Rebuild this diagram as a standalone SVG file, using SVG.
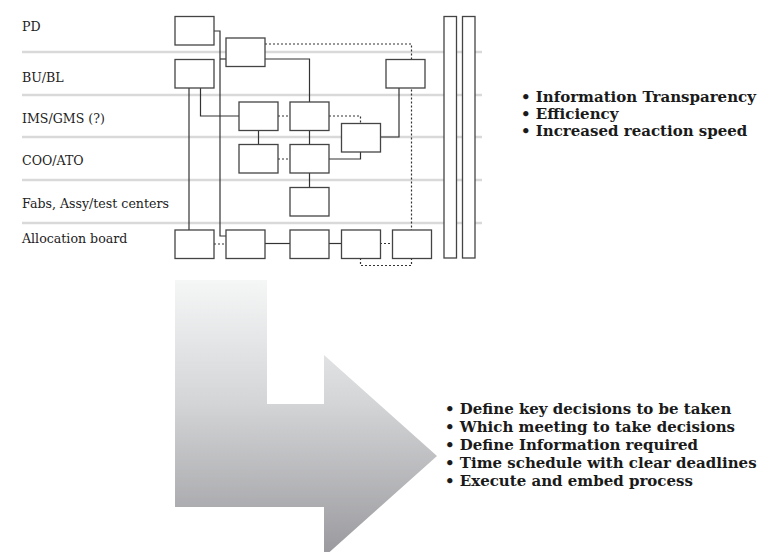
<svg xmlns="http://www.w3.org/2000/svg" width="759" height="552" viewBox="0 0 759 552">
<style>
.lane{stroke:#d9d9d9;stroke-width:2.5;fill:none}
.lbl{font-family:"DejaVu Serif","Liberation Serif",serif;font-size:12.6px;fill:#222}
.bul{font-family:"DejaVu Serif","Liberation Serif",serif;font-size:15px;font-weight:bold;fill:#1a1a1a}
.box{fill:#fff;stroke:#444;stroke-width:1.3}
.bar{fill:#fff;stroke:#444;stroke-width:1.3}
.c{fill:none;stroke:#333;stroke-width:1.2}
.d{fill:none;stroke:#333;stroke-width:1.2;stroke-dasharray:2 2}
</style>
<defs>
<linearGradient id="g" x1="0" y1="280" x2="0" y2="552" gradientUnits="userSpaceOnUse">
<stop offset="0" stop-color="#f5f6f6"/>
<stop offset="0.45" stop-color="#d4d5d7"/>
<stop offset="1" stop-color="#9b9b9f"/>
</linearGradient>
</defs>
<rect width="759" height="552" fill="#fff"/>
<g id="lanes">
<line class="lane" x1="22" y1="52" x2="482" y2="52"/>
<line class="lane" x1="22" y1="95" x2="482" y2="95"/>
<line class="lane" x1="22" y1="137" x2="482" y2="137"/>
<line class="lane" x1="22" y1="180" x2="482" y2="180"/>
<line class="lane" x1="22" y1="223" x2="482" y2="223"/>
</g>
<g id="labels">
<text class="lbl" x="22" y="31">PD</text>
<text class="lbl" x="22" y="82">BU/BL</text>
<text class="lbl" x="22" y="123">IMS/GMS (?)</text>
<text class="lbl" x="22" y="165">COO/ATO</text>
<text class="lbl" x="22" y="208">Fabs, Assy/test centers</text>
<text class="lbl" x="22" y="243">Allocation board</text>
</g>
<g id="connectors">
<polyline class="c" points="214,31 220,31 220,236 226,236"/>
<line class="c" x1="220" y1="59" x2="226" y2="59"/>
<polyline class="c" points="265,59 309.5,59 309.5,102"/>
<polyline class="d" points="265,44 411.5,44 411.5,230"/>
<line class="c" x1="189" y1="88" x2="189" y2="230"/>
<polyline class="c" points="200.5,88 200.5,116 239,116"/>
<line class="d" x1="278" y1="116" x2="290" y2="116"/>
<polyline class="d" points="329,116 360.5,116 360.5,123"/>
<polyline class="c" points="399,88 399,137 380,137"/>
<line class="c" x1="258.5" y1="130" x2="258.5" y2="144"/>
<line class="c" x1="309.5" y1="130" x2="309.5" y2="144"/>
<line class="d" x1="278" y1="159" x2="290" y2="159"/>
<polyline class="c" points="329,159 360.5,159 360.5,151"/>
<line class="c" x1="309.5" y1="173" x2="309.5" y2="187"/>
<line class="d" x1="214" y1="244" x2="226" y2="244"/>
<line class="c" x1="265" y1="243.5" x2="290" y2="243.5"/>
<line class="c" x1="329" y1="243.5" x2="341" y2="243.5"/>
<line class="d" x1="380" y1="243.5" x2="392" y2="243.5"/>
<polyline class="d" points="360.5,258 360.5,265.5 411.5,265.5 411.5,258"/>
</g>
<g id="n-pd"><rect class="box" x="175" y="16.5" width="39" height="28.5"/></g>
<g id="n-pd2"><rect class="box" x="226" y="38" width="39" height="28.5"/></g>
<g id="n-bu"><rect class="box" x="175" y="59.5" width="39" height="28.5"/></g>
<g id="n-bu2"><rect class="box" x="386" y="59.5" width="39" height="28.5"/></g>
<g id="n-ims1"><rect class="box" x="239" y="102" width="39" height="28.5"/></g>
<g id="n-ims2"><rect class="box" x="290" y="102" width="39" height="28.5"/></g>
<g id="n-ims3"><rect class="box" x="341.5" y="123.5" width="39" height="28.5"/></g>
<g id="n-coo1"><rect class="box" x="239" y="144.5" width="39" height="28.5"/></g>
<g id="n-coo2"><rect class="box" x="290" y="144.5" width="39" height="28.5"/></g>
<g id="n-fab"><rect class="box" x="290" y="187.5" width="39" height="28.5"/></g>
<g id="n-a1"><rect class="box" x="175" y="230" width="39" height="28.5"/></g>
<g id="n-a2"><rect class="box" x="226" y="230" width="39" height="28.5"/></g>
<g id="n-a3"><rect class="box" x="290" y="230" width="39" height="28.5"/></g>
<g id="n-a4"><rect class="box" x="341.5" y="230" width="39" height="28.5"/></g>
<g id="n-a5"><rect class="box" x="392.5" y="230" width="39" height="28.5"/></g>
<g id="bar1"><rect class="bar" x="444" y="16.5" width="12.5" height="241.5"/></g>
<g id="bar2"><rect class="bar" x="462.5" y="16.5" width="12.5" height="241.5"/></g>
<g id="top-bullets">
<text class="bul" x="521" y="102">• Information Transparency</text>
<text class="bul" x="521" y="119">• Efficiency</text>
<text class="bul" x="521" y="136">• Increased reaction speed</text>
</g>
<g id="arrow">
<polygon fill="url(#g)" points="175,280 267,280 267,404 324,404 324,355 437,456 324,557 324,507 175,507"/>
</g>
<g id="bottom-bullets">
<text class="bul" x="445" y="414">• Define key decisions to be taken</text>
<text class="bul" x="445" y="432">• Which meeting to take decisions</text>
<text class="bul" x="445" y="450">• Define Information required</text>
<text class="bul" x="445" y="468">• Time schedule with clear deadlines</text>
<text class="bul" x="445" y="486">• Execute and embed process</text>
</g>
</svg>
